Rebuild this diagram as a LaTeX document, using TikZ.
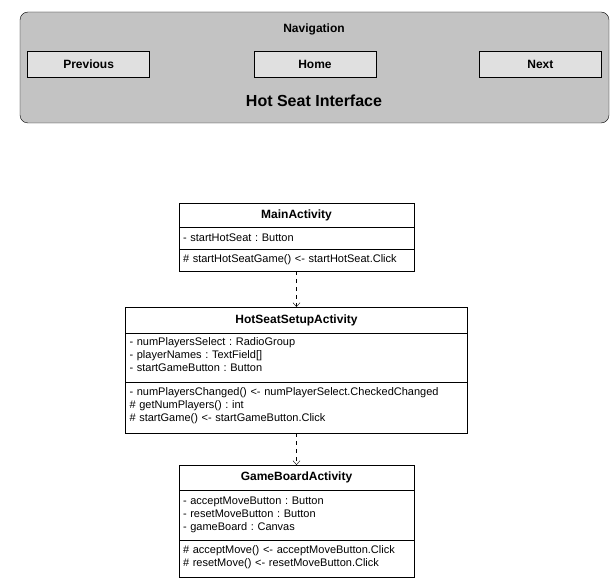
\documentclass[tikz,border=0pt]{standalone}
\usepackage{fontspec}
\setmainfont{Liberation Sans}
\usepackage{tikz}
\usetikzlibrary{arrows.meta}
\usetikzlibrary{positioning}
\frenchspacing
\definecolor{panelgray}{HTML}{C3C3C3}
\definecolor{buttongray}{HTML}{E0E0E0}
\tikzstyle{panel} = [rectangle, rounded corners=8pt, draw=black, fill=panelgray, minimum width=589pt, minimum height=111pt]
\tikzstyle{navbutton} = [rectangle, draw=black, fill=buttongray, minimum width=122pt, minimum height=26pt, font=\bfseries\fontsize{12}{14}\selectfont]
\tikzstyle{classname} = [rectangle, draw=black, fill=white, inner sep=0pt, outer sep=0pt, text centered, font=\bfseries\fontsize{12}{14}\selectfont]
\tikzstyle{members} = [rectangle, draw=black, fill=white, align=left, inner xsep=4pt, inner ysep=0pt, outer sep=0pt, font=\fontsize{11}{13}\selectfont]
\tikzstyle{arrow} = [dash pattern=on 4pt off 4pt, -{Straight Barb[length=4pt,width=7pt]}]

\begin{document}
\begin{tikzpicture}[x=1pt, y=-1pt]
    \useasboundingbox (0,0) rectangle (612,580);

    % navigation bar
    \node (bar) [panel] at (314.5,67.5) {};
    \node (navtitle) [font=\bfseries\fontsize{12}{14}\selectfont] at (314,29) {Navigation};
    \node (home) [navbutton] at (315,64) {Home};
    \node (previous) [navbutton, left=104pt of home] {Previous};
    \node (next) [navbutton, right=103pt of home] {Next};
    \node (interface) [font=\bfseries\fontsize{16}{18}\selectfont] at (314,101) {Hot Seat Interface};

    % activities
    \node (mainname) [classname, minimum width=235pt, minimum height=24pt, anchor=north] at (296.5,203) {MainActivity};
    \node (mainattr) [members, text width=227pt, minimum height=22pt, below=0pt of mainname] {- startHotSeat : Button};
    \node (mainops) [members, text width=227pt, minimum height=22pt, below=0pt of mainattr] {\# startHotSeatGame() <- startHotSeat.Click};

    \node (setupname) [classname, minimum width=342pt, minimum height=26pt, anchor=north] at (296.5,307) {HotSeatSetupActivity};
    \node (setupattr) [members, text width=334pt, minimum height=49pt, below=0pt of setupname] {- numPlayersSelect : RadioGroup\\- playerNames : TextField[]\\- startGameButton : Button\rule[-6pt]{0pt}{0pt}};
    \node (setupops) [members, text width=334pt, minimum height=51pt, below=0pt of setupattr] {- numPlayersChanged() <- numPlayerSelect.CheckedChanged\\\# getNumPlayers() : int\\\# startGame() <- startGameButton.Click\rule[-6pt]{0pt}{0pt}};

    \node (boardname) [classname, minimum width=235pt, minimum height=25pt, anchor=north] at (296.5,465) {GameBoardActivity};
    \node (boardattr) [members, text width=227pt, minimum height=50pt, below=0pt of boardname] {- acceptMoveButton : Button\\- resetMoveButton : Button\\- gameBoard : Canvas\rule[-2pt]{0pt}{0pt}};
    \node (boardops) [members, text width=227pt, minimum height=37pt, below=0pt of boardattr] {\# acceptMove() <- acceptMoveButton.Click\\\# resetMove() <- resetMoveButton.Click\rule[-4pt]{0pt}{0pt}};

    \draw [arrow] (mainops.south) -- (setupname.north);
    \draw [arrow] (setupops.south) -- (boardname.north);

\end{tikzpicture}
\end{document}
